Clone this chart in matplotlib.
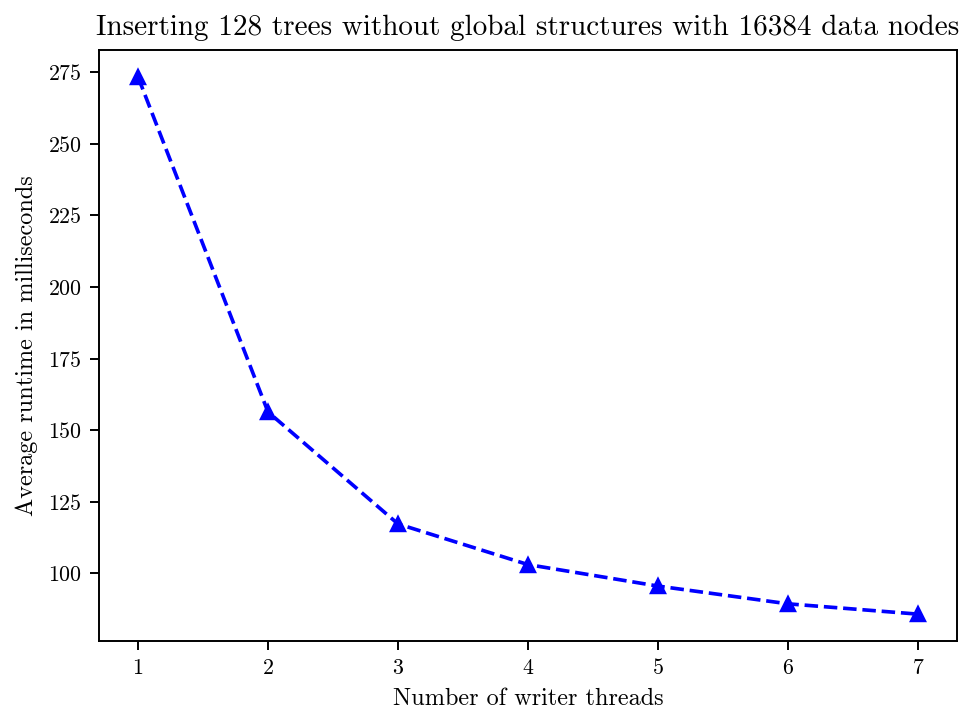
import matplotlib
matplotlib.use("Agg")
import matplotlib.pyplot as plt

plt.rcParams['font.family'] = 'serif'
plt.rcParams['font.serif'] = ['cmr10', 'DejaVu Serif']
plt.rcParams['mathtext.fontset'] = 'cm'
plt.rcParams['axes.formatter.use_mathtext'] = True

threads = [1, 2, 3, 4, 5, 6, 7]
runtime_ms = [273.4, 156.4, 117.3, 103.1, 95.6, 89.4, 85.8]

title = "Inserting 128 trees without global structures with 16384 data nodes"
xlabel = "Number of writer threads"
ylabel = "Average runtime in milliseconds"

W, H, DPI = 959, 709, 175
fig = plt.figure(figsize=(W / DPI, H / DPI), dpi=DPI)
ax = fig.add_axes([99 / W, (H - 641) / H, (957 - 99) / W, (641 - 50) / H])
ax.plot(threads, runtime_ms, linestyle='--', marker='^', color='b')
ax.set_title(title, fontsize=12)
ax.set_xlabel(xlabel, fontsize=10)
ax.set_ylabel(ylabel, fontsize=10)
ax.tick_params(labelsize=9)
fig.savefig("out.png", dpi=DPI)
